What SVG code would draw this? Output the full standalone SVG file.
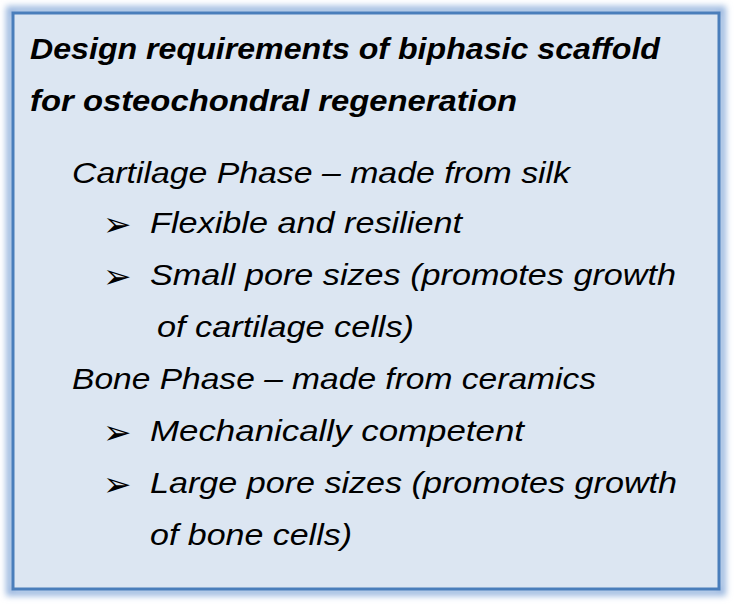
<svg xmlns="http://www.w3.org/2000/svg" width="741" height="604" viewBox="0 0 741 604">
<style>
.t{font-family:"Liberation Sans",Arial,sans-serif;font-style:italic;font-size:30px;fill:#000}
.h{font-weight:bold}
.b{font-family:"DejaVu Sans",sans-serif;font-size:34px;fill:#000}
</style>
<defs>
<filter id="g" x="-5%" y="-5%" width="110%" height="110%"><feGaussianBlur stdDeviation="3"/></filter>
</defs>
<rect width="741" height="604" fill="#fff"/>
<g id="box">
<rect x="10" y="10" width="712" height="582" fill="none" stroke="#9db9e0" stroke-width="8" filter="url(#g)"/>
<rect x="13" y="13" width="706" height="576" fill="#dce6f2" stroke="#4a7ebb" stroke-width="3"/>
</g>
<g id="text">
<text class="t h" x="30" y="59" textLength="630" lengthAdjust="spacingAndGlyphs">Design requirements of biphasic scaffold</text>
<text class="t h" x="30" y="111" textLength="487" lengthAdjust="spacingAndGlyphs">for osteochondral regeneration</text>
<text class="t" x="72" y="183" textLength="498" lengthAdjust="spacingAndGlyphs">Cartilage Phase – made from silk</text>
<text class="b" x="103" y="236">➢</text>
<text class="t" x="150" y="233" textLength="312" lengthAdjust="spacingAndGlyphs">Flexible and resilient</text>
<text class="b" x="103" y="288">➢</text>
<text class="t" x="150" y="285" textLength="526" lengthAdjust="spacingAndGlyphs">Small pore sizes (promotes growth</text>
<text class="t" x="157" y="337" textLength="257" lengthAdjust="spacingAndGlyphs">of cartilage cells)</text>
<text class="t" x="72" y="389" textLength="524" lengthAdjust="spacingAndGlyphs">Bone Phase – made from ceramics</text>
<text class="b" x="103" y="444">➢</text>
<text class="t" x="150" y="441" textLength="374" lengthAdjust="spacingAndGlyphs">Mechanically competent</text>
<text class="b" x="103" y="496">➢</text>
<text class="t" x="150" y="493" textLength="527" lengthAdjust="spacingAndGlyphs">Large pore sizes (promotes growth</text>
<text class="t" x="150" y="545" textLength="202" lengthAdjust="spacingAndGlyphs">of bone cells)</text>
</g>
</svg>
